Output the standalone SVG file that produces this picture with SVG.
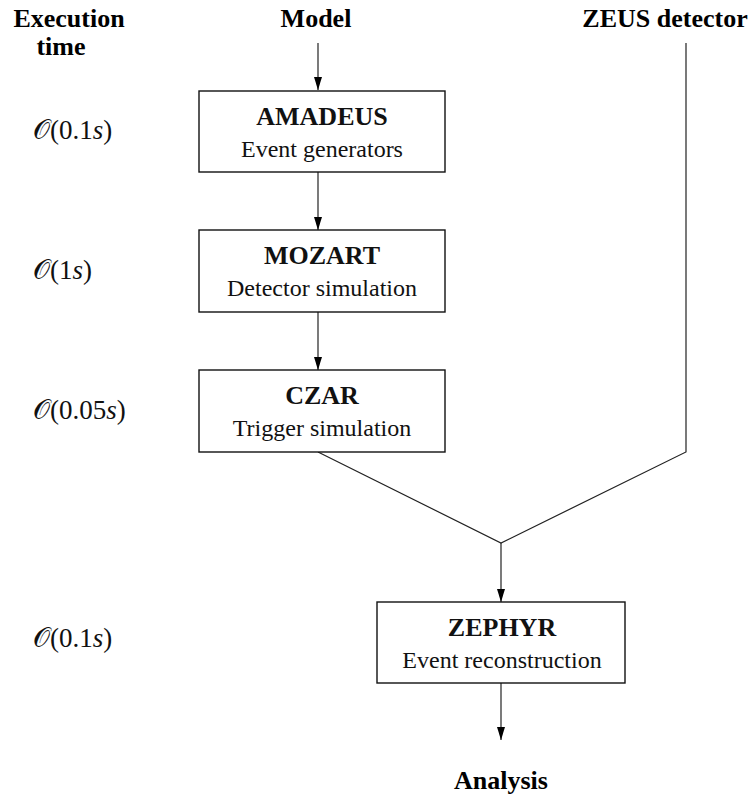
<svg xmlns="http://www.w3.org/2000/svg" width="753" height="796" viewBox="0 0 753 796">
<style>
.hdr{font-family:"Liberation Serif","Times New Roman",serif;font-weight:bold;font-size:26px;fill:#000;text-anchor:middle}
.ttl{font-family:"Liberation Serif","Times New Roman",serif;font-weight:bold;font-size:26px;fill:#111;text-anchor:middle}
.sub{font-family:"Liberation Serif","Times New Roman",serif;font-size:24px;fill:#111;text-anchor:middle}
.tm{font-family:"Liberation Serif","Times New Roman",serif;font-size:27px;fill:#111}
.cal{font-family:"DejaVu Serif","Liberation Serif",serif;font-style:normal}
.it{font-style:italic}
.box{fill:#fff;stroke:#111;stroke-width:1.4}
.ln{fill:none;stroke:#222;stroke-width:1.2}
</style>
<defs>
<marker id="av" markerUnits="userSpaceOnUse" markerWidth="13" markerHeight="8" refX="13" refY="4" orient="auto" viewBox="0 0 13 8">
<path d="M0,0 L13,4 L0,8 z" fill="#000"/>
</marker>
</defs>
<g id="headers">
<text class="hdr" x="69" y="27">Execution</text>
<text class="hdr" x="61" y="55">time</text>
<text id="model" class="hdr" x="316" y="27">Model</text>
<text id="zeus" class="hdr" x="665" y="27">ZEUS detector</text>
<text id="analysis" class="hdr" x="501" y="789">Analysis</text>
</g>
<g id="times">
<text class="tm" x="33" y="139"><tspan class="cal">𝒪</tspan>(0.1<tspan class="it">s</tspan>)</text>
<text class="tm" x="33" y="279"><tspan class="cal">𝒪</tspan>(1<tspan class="it">s</tspan>)</text>
<text class="tm" x="33" y="419"><tspan class="cal">𝒪</tspan>(0.05<tspan class="it">s</tspan>)</text>
<text class="tm" x="33" y="647"><tspan class="cal">𝒪</tspan>(0.1<tspan class="it">s</tspan>)</text>
</g>
<g id="connectors">
<line class="ln" x1="318" y1="43" x2="318" y2="90" marker-end="url(#av)"/>
<line class="ln" x1="318" y1="172" x2="318" y2="230" marker-end="url(#av)"/>
<line class="ln" x1="318" y1="312" x2="318" y2="370" marker-end="url(#av)"/>
<polyline class="ln" points="318,452 501,543 686,452 686,43"/>
<line class="ln" x1="501" y1="543" x2="501" y2="602" marker-end="url(#av)"/>
<line class="ln" x1="501" y1="682" x2="501" y2="740" marker-end="url(#av)"/>
</g>
<g id="amadeus">
<rect class="box" x="199" y="91" width="246" height="81"/>
<text class="ttl" x="322" y="125">AMADEUS</text>
<text class="sub" x="322" y="157">Event generators</text>
</g>
<g id="mozart">
<rect class="box" x="199" y="230" width="246" height="82"/>
<text class="ttl" x="322" y="264">MOZART</text>
<text class="sub" x="322" y="296">Detector simulation</text>
</g>
<g id="czar">
<rect class="box" x="199" y="370" width="246" height="82"/>
<text class="ttl" x="322" y="404">CZAR</text>
<text class="sub" x="322" y="436">Trigger simulation</text>
</g>
<g id="zephyr">
<rect class="box" x="377" y="602" width="248" height="81"/>
<text class="ttl" x="502" y="636">ZEPHYR</text>
<text class="sub" x="502" y="668">Event reconstruction</text>
</g>
</svg>
